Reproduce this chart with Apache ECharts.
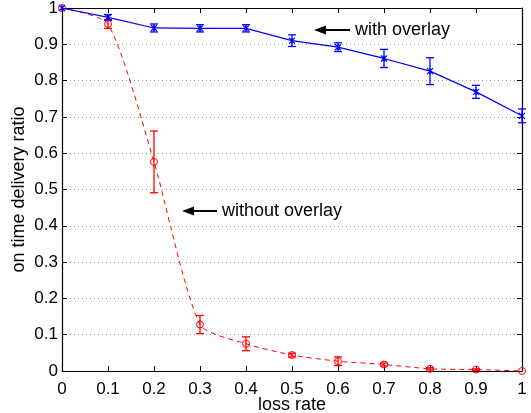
<!DOCTYPE html>
<html><head><meta charset="utf-8">
<script src="https://cdn.jsdelivr.net/npm/echarts@6/dist/echarts.min.js"></script>
<style>html,body{margin:0;padding:0;background:#fff}#c{width:531px;height:413px}</style>
</head><body><div id="c"></div>
<script>
const lossRates = [0, 0.1, 0.2, 0.3, 0.4, 0.5, 0.6, 0.7, 0.8, 0.9, 1.0];
const withOverlay = [1.0, 0.974, 0.945, 0.944, 0.944, 0.910, 0.892, 0.861, 0.826, 0.769, 0.703];
const withOverlayErr = [0.0, 0.008, 0.011, 0.010, 0.010, 0.016, 0.012, 0.025, 0.037, 0.018, 0.019];
const withoutOverlay = [1.0, 0.956, 0.576, 0.128, 0.075, 0.044, 0.027, 0.018, 0.006, 0.004, 0.0];
const withoutOverlayErr = [0.0, 0.012, 0.085, 0.025, 0.019, 0.005, 0.012, 0.004, 0.003, 0.002, 0.0];
const xTicks = ['0','0.1','0.2','0.3','0.4','0.5','0.6','0.7','0.8','0.9','1'];

const FONT = 'Liberation Sans, Arial, sans-serif';
const chart = echarts.init(document.getElementById('c'));

function errData(vals, errs) {
  return lossRates.map((x, i) => [x, vals[i] - errs[i], vals[i] + errs[i]]);
}
function errSeries(vals, errs, color) {
  return {
    type: 'custom',
    xAxisIndex: 0, yAxisIndex: 0,
    data: errData(vals, errs),
    z: 3,
    silent: true,
    renderItem: function (params, api) {
      const x = api.value(0), lo = api.value(1), hi = api.value(2);
      if (hi - lo <= 0) return null;
      const p1 = api.coord([x, lo]);
      const p2 = api.coord([x, hi]);
      const w = 4;
      const st = { stroke: color, lineWidth: 1.3 };
      return {
        type: 'group',
        children: [
          { type: 'line', shape: { x1: p1[0], y1: p1[1], x2: p2[0], y2: p2[1] }, style: st },
          { type: 'line', shape: { x1: p1[0] - w, y1: p1[1], x2: p1[0] + w, y2: p1[1] }, style: st },
          { type: 'line', shape: { x1: p2[0] - w, y1: p2[1], x2: p2[0] + w, y2: p2[1] }, style: st }
        ]
      };
    }
  };
}

const xPath = 'path://M0,0L10,10M10,0L0,10M5,0L5,10';

chart.setOption({
  animation: false,
  backgroundColor: '#fff',
  grid: { left: 62, right: 9, top: 8, bottom: 42, containLabel: false, outerBoundsMode: 'none' },
  xAxis: [{
    type: 'value', min: 0, max: 1, interval: 0.1, position: 'bottom',
    axisLine: { show: true, onZero: false, lineStyle: { color: '#000', width: 1.2 } },
    axisTick: { show: true, inside: true, length: 5, lineStyle: { color: '#000' } },
    axisLabel: { color: '#000', fontSize: 17, fontFamily: FONT, margin: 10,
      formatter: v => xTicks[Math.round(v * 10)] },
    splitLine: { show: false },
    name: 'loss rate', nameLocation: 'middle', nameGap: 25, nameMoveOverlap: false,
    nameTextStyle: { color: '#000', fontSize: 18, fontFamily: FONT }
  }, {
    type: 'value', min: 0, max: 1, interval: 0.1, position: 'top',
    axisLine: { show: true, onZero: false, lineStyle: { color: '#000', width: 1.2 } },
    axisTick: { show: true, inside: true, length: 5, lineStyle: { color: '#000' } },
    axisLabel: { show: false }, splitLine: { show: false }
  }],
  yAxis: [{
    type: 'value', min: 0, max: 1, interval: 0.1, position: 'left',
    axisLine: { show: true, onZero: false, lineStyle: { color: '#000', width: 1.2 } },
    axisTick: { show: true, inside: true, length: 5, lineStyle: { color: '#000' } },
    axisLabel: { color: '#000', fontSize: 17, fontFamily: FONT, margin: 4,
      formatter: v => xTicks[Math.round(v * 10)] },
    splitLine: { show: true, lineStyle: { color: '#999', type: [1, 3], width: 1 } },
    name: 'on time delivery ratio', nameLocation: 'middle', nameGap: 34, nameRotate: 90, nameMoveOverlap: false,
    nameTextStyle: { color: '#000', fontSize: 18, fontFamily: FONT }
  }, {
    type: 'value', min: 0, max: 1, interval: 0.1, position: 'right',
    axisLine: { show: true, onZero: false, lineStyle: { color: '#000', width: 1.2 } },
    axisTick: { show: true, inside: true, length: 5, lineStyle: { color: '#000' } },
    axisLabel: { show: false }, splitLine: { show: false }
  }],
  series: [
    errSeries(withoutOverlay, withoutOverlayErr, '#ff0000'),
    errSeries(withOverlay, withOverlayErr, '#0000ff'),
    {
      name: 'without overlay', type: 'line', smooth: 0.22,
      data: lossRates.map((x, i) => [x, withoutOverlay[i]]),
      lineStyle: { color: '#ff0000', width: 1, type: [5, 4] },
      symbol: 'circle', symbolSize: 7,
      itemStyle: { color: 'transparent', borderColor: '#ff0000', borderWidth: 1 },
      z: 4
    },
    {
      name: 'with overlay', type: 'line',
      data: lossRates.map((x, i) => [x, withOverlay[i]]),
      lineStyle: { color: '#0000ff', width: 1.2 },
      symbol: xPath, symbolSize: 6,
      itemStyle: { color: '#0000ff', borderColor: '#0000ff', borderWidth: 1.2 },
      z: 5
    }
  ],
  graphic: [
    { type: 'line', shape: { x1: 322, y1: 30, x2: 350, y2: 30 }, style: { stroke: '#000', lineWidth: 2 } },
    { type: 'polygon', shape: { points: [[314, 30], [326, 25.5], [326, 34.5]] }, style: { fill: '#000' } },
    { type: 'text', x: 355, y: 30, style: { text: 'with overlay', fill: '#000', font: '18px ' + FONT, textVerticalAlign: 'middle' } },
    { type: 'line', shape: { x1: 190, y1: 211, x2: 217, y2: 211 }, style: { stroke: '#000', lineWidth: 2 } },
    { type: 'polygon', shape: { points: [[182, 211], [194, 206.5], [194, 215.5]] }, style: { fill: '#000' } },
    { type: 'text', x: 222, y: 211, style: { text: 'without overlay', fill: '#000', font: '18px ' + FONT, textVerticalAlign: 'middle' } }
  ]
});
</script></body></html>
